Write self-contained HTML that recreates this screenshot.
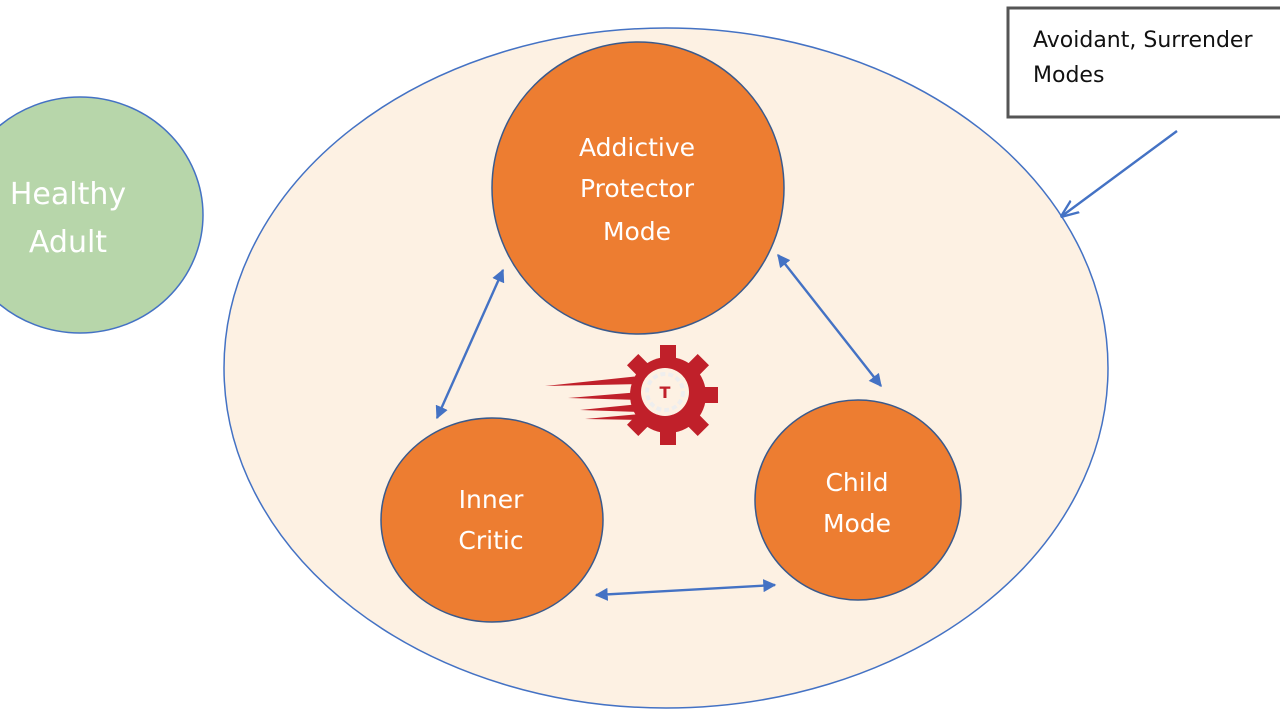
<!DOCTYPE html>
<html><head><style>
html,body{margin:0;padding:0;background:#fff;width:1280px;height:720px;overflow:hidden}
svg text{font-family:"DejaVu Sans","Liberation Sans",sans-serif}
</style></head><body>
<svg width="1280" height="720" viewBox="0 0 1280 720" xmlns="http://www.w3.org/2000/svg">
<defs>
<marker id="a" viewBox="0 0 10 10" refX="9" refY="5" markerWidth="13" markerHeight="13" orient="auto-start-reverse" markerUnits="userSpaceOnUse">
<path d="M0,0 L10,5 L0,10 z" fill="#4472c4"/></marker>
<marker id="b" viewBox="0 0 10 10" refX="9" refY="5" markerWidth="18" markerHeight="18" orient="auto-start-reverse" markerUnits="userSpaceOnUse">
<path d="M0,1 L10,5 L0,9" fill="none" stroke="#4472c4" stroke-width="1.3"/></marker>
</defs>
<ellipse cx="666" cy="368" rx="442" ry="340" fill="#fdf1e3" stroke="#4472c4" stroke-width="1.5"/>
<ellipse cx="80" cy="215" rx="123" ry="118" fill="#b7d6aa" stroke="#4472c4" stroke-width="1.5"/>
<text x="68" y="204" font-size="30" fill="#fff" text-anchor="middle">Healthy</text>
<text x="68" y="252" font-size="30" fill="#fff" text-anchor="middle">Adult</text>
<circle cx="638" cy="188" r="146" fill="#ed7d31" stroke="#3a5a8c" stroke-width="1.5"/>
<text x="637" y="156" font-size="25" fill="#fff" text-anchor="middle">Addictive</text>
<text x="637" y="197" font-size="25" fill="#fff" text-anchor="middle">Protector</text>
<text x="637" y="240" font-size="25" fill="#fff" text-anchor="middle">Mode</text>
<ellipse cx="492" cy="520" rx="111" ry="102" fill="#ed7d31" stroke="#3a5a8c" stroke-width="1.5"/>
<text x="491" y="508" font-size="25" fill="#fff" text-anchor="middle">Inner</text>
<text x="491" y="549" font-size="25" fill="#fff" text-anchor="middle">Critic</text>
<ellipse cx="858" cy="500" rx="103" ry="100" fill="#ed7d31" stroke="#3a5a8c" stroke-width="1.5"/>
<text x="857" y="491" font-size="25" fill="#fff" text-anchor="middle">Child</text>
<text x="857" y="532" font-size="25" fill="#fff" text-anchor="middle">Mode</text>
<g stroke="#4472c4" stroke-width="2.4" fill="none">
<line x1="503" y1="270" x2="437" y2="418" marker-start="url(#a)" marker-end="url(#a)"/>
<line x1="778" y1="255" x2="881" y2="386" marker-start="url(#a)" marker-end="url(#a)"/>
<line x1="596" y1="595" x2="775" y2="585" marker-start="url(#a)" marker-end="url(#a)"/>
<line x1="1177" y1="131" x2="1062" y2="216" marker-end="url(#b)"/>
</g>
<g fill="#c0202a">
<polygon points="545,386 640,376 640,384"/>
<polygon points="568,398 640,392 640,400"/>
<polygon points="580,410 640,404 640,412"/>
<polygon points="585,419 640,414 640,420"/>
<circle cx="668" cy="395" r="38"/>
<g transform="translate(668,395)">
<rect x="-8" y="-50" width="16" height="14"/>
<rect x="-8" y="36" width="16" height="14"/>
<rect x="36" y="-8" width="14" height="16"/>
<rect x="-8" y="-50" width="16" height="14" transform="rotate(45)"/>
<rect x="-8" y="-50" width="16" height="14" transform="rotate(90)"/>
<rect x="-8" y="-50" width="16" height="14" transform="rotate(135)"/>
<rect x="-8" y="-50" width="16" height="14" transform="rotate(-45)"/>
<rect x="-8" y="-50" width="16" height="14" transform="rotate(-135)"/>
</g>
<circle cx="665" cy="392" r="24" fill="#fdf1e3"/>
<circle cx="665" cy="392" r="18" fill="none" stroke="#eee" stroke-width="4" stroke-dasharray="5 3"/>
<text x="665" y="398" font-size="16" font-weight="bold" fill="#c0202a" text-anchor="middle" font-family="Liberation Serif,serif">T</text>
</g>
<rect x="1008" y="8" width="290" height="109" fill="#fff" stroke="#555" stroke-width="3"/>
<text x="1033" y="47" font-size="22" fill="#111">Avoidant, Surrender</text>
<text x="1033" y="82" font-size="22" fill="#111">Modes</text>
</svg>
</body></html>
